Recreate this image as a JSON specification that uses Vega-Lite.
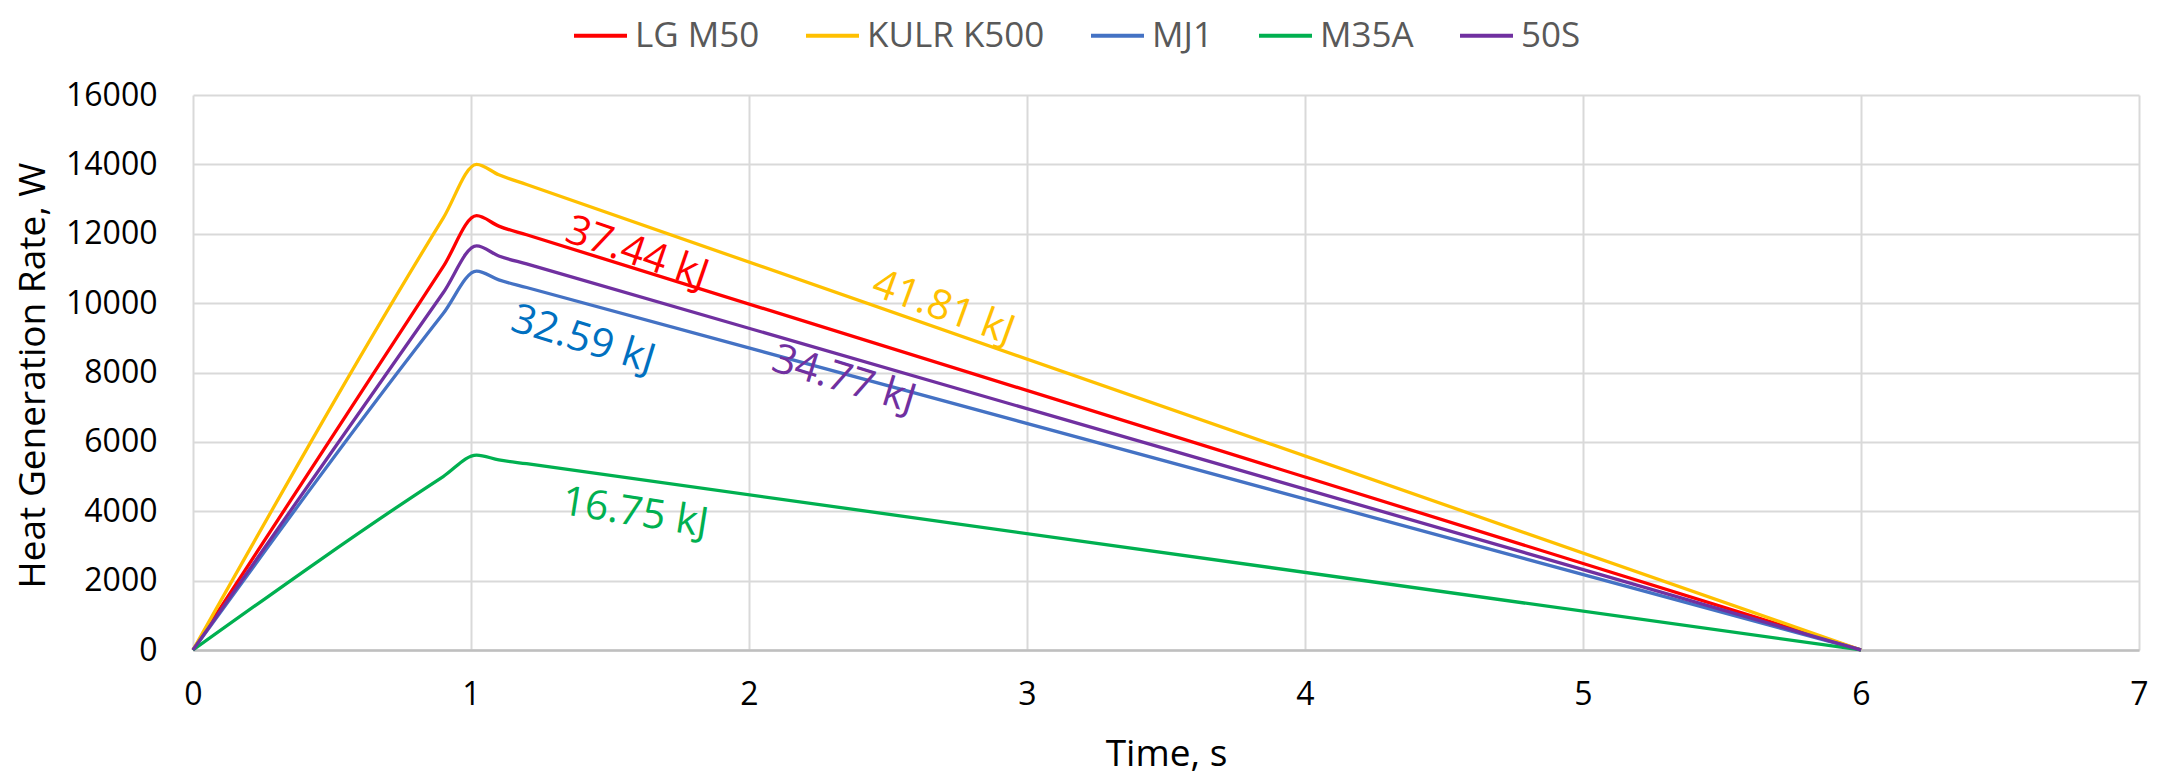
{
  "$schema": "https://vega.github.io/schema/vega-lite/v6.json",
  "width": 1946,
  "height": 555,
  "autosize": "none",
  "padding": {"left": 193, "top": 95, "right": 34, "bottom": 127},
  "background": "white",
  "config": {
    "view": {"stroke": null},
    "font": "Open Sans",
    "axis": {
      "labelFont": "Open Sans",
      "titleFont": "Open Sans",
      "labelColor": "#000000",
      "titleColor": "#000000",
      "labelFontSize": 32,
      "titleFontSize": 37,
      "titleFontWeight": "normal",
      "gridColor": "#d9d9d9",
      "gridWidth": 2,
      "ticks": false,
      "tickSize": 0,
      "labelFlush": false
    }
  },
  "datasets": {
    "curves": [
      {"Cell": "LG M50", "t": 0, "W": 0},
      {"Cell": "LG M50", "t": 0.9, "W": 11050},
      {"Cell": "LG M50", "t": 1.02, "W": 12520},
      {"Cell": "LG M50", "t": 1.1, "W": 12220},
      {"Cell": "LG M50", "t": 1.2, "W": 11970},
      {"Cell": "LG M50", "t": 6, "W": 0},
      {"Cell": "KULR K500", "t": 0, "W": 0},
      {"Cell": "KULR K500", "t": 0.9, "W": 12450},
      {"Cell": "KULR K500", "t": 1.02, "W": 14000},
      {"Cell": "KULR K500", "t": 1.1, "W": 13700},
      {"Cell": "KULR K500", "t": 1.2, "W": 13420},
      {"Cell": "KULR K500", "t": 6, "W": 0},
      {"Cell": "MJ1", "t": 0, "W": 0},
      {"Cell": "MJ1", "t": 0.9, "W": 9700},
      {"Cell": "MJ1", "t": 1.02, "W": 10920},
      {"Cell": "MJ1", "t": 1.1, "W": 10670},
      {"Cell": "MJ1", "t": 1.2, "W": 10450},
      {"Cell": "MJ1", "t": 6, "W": 0},
      {"Cell": "M35A", "t": 0, "W": 0},
      {"Cell": "M35A", "t": 0.9, "W": 5000},
      {"Cell": "M35A", "t": 1.02, "W": 5620},
      {"Cell": "M35A", "t": 1.1, "W": 5480},
      {"Cell": "M35A", "t": 1.2, "W": 5370},
      {"Cell": "M35A", "t": 6, "W": 0},
      {"Cell": "50S", "t": 0, "W": 0},
      {"Cell": "50S", "t": 0.9, "W": 10300},
      {"Cell": "50S", "t": 1.02, "W": 11650},
      {"Cell": "50S", "t": 1.1, "W": 11360},
      {"Cell": "50S", "t": 1.2, "W": 11130},
      {"Cell": "50S", "t": 6, "W": 0}
    ]
  },
  "layer": [
    {
      "data": {"name": "curves"},
      "mark": {"type": "line", "interpolate": "monotone", "strokeWidth": 3.3},
      "encoding": {
        "x": {
          "field": "t", "type": "quantitative",
          "scale": {"domain": [0, 7], "nice": false},
          "axis": {
            "title": "Time, s",
            "values": [0, 1, 2, 3, 4, 5, 6, 7],
            "format": "d",
            "labelPadding": 29,
            "domainColor": "#bfbfbf",
            "domainWidth": 2.5,
            "titleY": 115,
            "titleBaseline": "alphabetic"
          }
        },
        "y": {
          "field": "W", "type": "quantitative",
          "scale": {"domain": [0, 16000], "nice": false},
          "axis": {
            "title": "Heat Generation Rate, W",
            "values": [0, 2000, 4000, 6000, 8000, 10000, 12000, 14000, 16000],
            "format": "d",
            "labelPadding": 36,
            "domain": false,
            "titleX": -149,
            "titleY": 280,
            "titleBaseline": "alphabetic",
            "titleAlign": "center"
          }
        },
        "color": {
          "field": "Cell", "type": "nominal",
          "scale": {
            "domain": ["LG M50", "KULR K500", "MJ1", "M35A", "50S"],
            "range": ["#ff0000", "#ffc000", "#4472c4", "#00b050", "#7030a0"]
          },
          "legend": {
            "title": null,
            "orient": "none",
            "direction": "horizontal",
            "legendX": 379,
            "legendY": -88,
            "padding": 0,
            "symbolType": "stroke",
            "symbolSize": 2809,
            "symbolStrokeWidth": 4,
            "labelFont": "Open Sans",
            "labelFontSize": 35,
            "labelColor": "#595959",
            "labelOffset": 6,
            "labelLimit": 0,
            "columnPadding": 38
          }
        }
      }
    },
    {
      "data": {"values": [{"label": "37.44 kJ", "t": 1.597, "W": 11435}]},
      "mark": {"type": "text", "font": "Open Sans", "fontSize": 41, "angle": 19, "color": "#ff0000", "align": "center", "baseline": "middle"},
      "encoding": {"x": {"field": "t", "type": "quantitative"}, "y": {"field": "W", "type": "quantitative"}, "text": {"field": "label"}}
    },
    {
      "data": {"values": [{"label": "41.81 kJ", "t": 2.699, "W": 9850}]},
      "mark": {"type": "text", "font": "Open Sans", "fontSize": 41, "angle": 20, "color": "#ffc000", "align": "center", "baseline": "middle"},
      "encoding": {"x": {"field": "t", "type": "quantitative"}, "y": {"field": "W", "type": "quantitative"}, "text": {"field": "label"}}
    },
    {
      "data": {"values": [{"label": "32.59 kJ", "t": 1.403, "W": 8936}]},
      "mark": {"type": "text", "font": "Open Sans", "fontSize": 41, "angle": 17, "color": "#0070c0", "align": "center", "baseline": "middle"},
      "encoding": {"x": {"field": "t", "type": "quantitative"}, "y": {"field": "W", "type": "quantitative"}, "text": {"field": "label"}}
    },
    {
      "data": {"values": [{"label": "34.77 kJ", "t": 2.341, "W": 7783}]},
      "mark": {"type": "text", "font": "Open Sans", "fontSize": 41, "angle": 17, "color": "#7030a0", "align": "center", "baseline": "middle"},
      "encoding": {"x": {"field": "t", "type": "quantitative"}, "y": {"field": "W", "type": "quantitative"}, "text": {"field": "label"}}
    },
    {
      "data": {"values": [{"label": "16.75 kJ", "t": 1.59, "W": 3940}]},
      "mark": {"type": "text", "font": "Open Sans", "fontSize": 41, "angle": 9, "color": "#00b050", "align": "center", "baseline": "middle"},
      "encoding": {"x": {"field": "t", "type": "quantitative"}, "y": {"field": "W", "type": "quantitative"}, "text": {"field": "label"}}
    }
  ]
}
